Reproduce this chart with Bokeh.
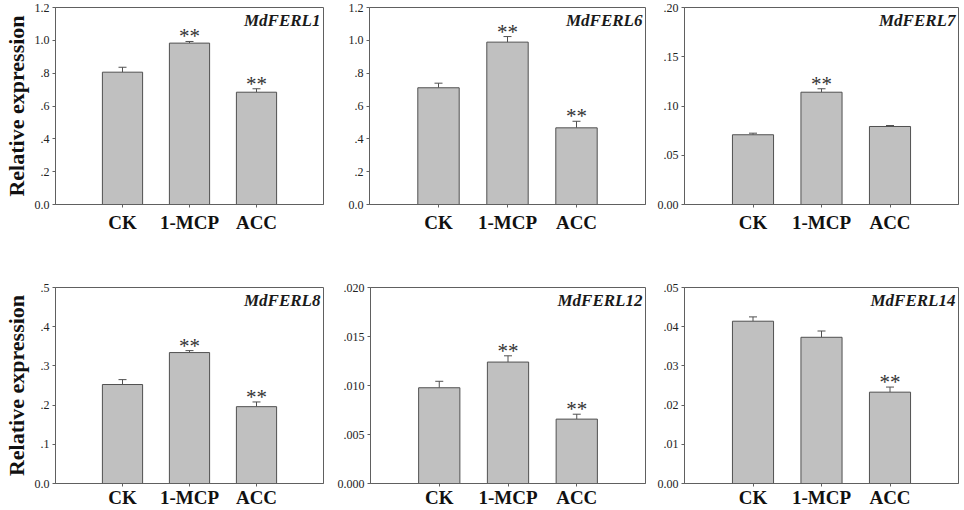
from bokeh.plotting import figure
from bokeh.models import (FactorRange, Range1d, FixedTicker, Whisker, ColumnDataSource,
                          Label, TeeHead, CustomJSTickFormatter)
from bokeh.layouts import column, row
from bokeh.embed import file_html
from bokeh.resources import INLINE
from bokeh.core.properties import value

# ---------------- data ----------------
categories = ["CK", "1-MCP", "ACC"]
genes = ["MdFERL1", "MdFERL6", "MdFERL7", "MdFERL8", "MdFERL12", "MdFERL14"]

ferl1_mean = [0.806, 0.983, 0.684]
ferl1_err = [0.030, 0.010, 0.021]
ferl6_mean = [0.711, 0.989, 0.467]
ferl6_err = [0.028, 0.034, 0.040]
ferl7_mean = [0.0708, 0.1140, 0.0792]
ferl7_err = [0.0016, 0.0035, 0.0010]
ferl8_mean = [0.2525, 0.3340, 0.1960]
ferl8_err = [0.0125, 0.0050, 0.0120]
ferl12_mean = [0.00977, 0.01239, 0.00657]
ferl12_err = [0.00066, 0.00064, 0.00050]
ferl14_mean = [0.0414, 0.0373, 0.0233]
ferl14_err = [0.0011, 0.0016, 0.0013]

ferl1_sig = ["", "**", "**"]
ferl6_sig = ["", "**", "**"]
ferl7_sig = ["", "**", ""]
ferl8_sig = ["", "**", "**"]
ferl12_sig = ["", "**", "**"]
ferl14_sig = ["", "", "**"]

ferl1_ticks = [0.0, 0.2, 0.4, 0.6, 0.8, 1.0, 1.2]
ferl1_labels = ["0.0", ".2", ".4", ".6", ".8", "1.0", "1.2"]
ferl6_ticks = [0.0, 0.2, 0.4, 0.6, 0.8, 1.0, 1.2]
ferl6_labels = ["0.0", ".2", ".4", ".6", ".8", "1.0", "1.2"]
ferl7_ticks = [0.0, 0.05, 0.10, 0.15, 0.20]
ferl7_labels = ["0.00", ".05", ".10", ".15", ".20"]
ferl8_ticks = [0.0, 0.1, 0.2, 0.3, 0.4, 0.5]
ferl8_labels = ["0.0", ".1", ".2", ".3", ".4", ".5"]
ferl12_ticks = [0.0, 0.005, 0.010, 0.015, 0.020]
ferl12_labels = ["0.000", ".005", ".010", ".015", ".020"]
ferl14_ticks = [0.0, 0.01, 0.02, 0.03, 0.04, 0.05]
ferl14_labels = ["0.00", ".01", ".02", ".03", ".04", ".05"]

ylabel = "Relative expression"

# ---------------- styling ----------------
SERIF = "Liberation Serif"
AXIS_C = "#606060"
BAR_FILL = "#c0c0c0"
BAR_LINE = "#505050"

# column geometry: (width, left border, right border)
COLS = [(334, 51, 11), (318, 35, 7), (310, 32, 4)]
# row geometry: (height, top border, bottom border, category label standoff)
ROWS = [(250, 7, 46, 4), (260, 37, 27, 0)]


def make_panel(gene, mean, err, sig, ticks, labels, col, rw, with_ylabel):
    w, bl, br = COLS[col]
    h, bt, bb, stand = ROWS[rw]
    ymax = ticks[-1]
    p = figure(
        x_range=FactorRange(factors=categories, range_padding=0.5,
                            range_padding_units="absolute"),
        y_range=Range1d(0, ymax),
        width=w, height=h,
        min_border_left=bl, min_border_right=br,
        min_border_top=bt, min_border_bottom=bb,
        output_backend="svg", toolbar_location=None,
    )
    p.background_fill_color = "white"
    p.border_fill_color = "white"
    p.outline_line_color = AXIS_C
    p.outline_line_width = 1
    p.xgrid.grid_line_color = None
    p.ygrid.grid_line_color = None

    src = ColumnDataSource(dict(
        cat=categories,
        mean=mean,
        upper=[m + e for m, e in zip(mean, err)],
        sig=sig,
    ))
    p.vbar(x="cat", top="mean", width=0.6, source=src,
           fill_color=BAR_FILL, line_color=BAR_LINE, line_width=1)
    wh = Whisker(base="cat", lower="mean", upper="upper", source=src,
                 line_color=BAR_LINE, line_width=1,
                 upper_head=TeeHead(size=8, line_color=BAR_LINE, line_width=1),
                 lower_head=None)
    p.add_layout(wh)
    p.text(x="cat", y="upper", text="sig", source=src,
           text_font=value(SERIF), text_font_size="21px",
           text_align="center", text_baseline="alphabetic",
           y_offset=-5, text_color="#333333")

    p.add_layout(Label(x=3.5, y=ymax, x_offset=-3, y_offset=-3, text=gene,
                       text_font=SERIF, text_font_size="17px",
                       text_font_style="bold italic", text_color="#1a1a1a",
                       text_align="right", text_baseline="top"))

    xa = p.xaxis[0]
    xa.axis_line_color = AXIS_C
    xa.major_tick_line_color = AXIS_C
    xa.major_tick_in = 0
    xa.major_tick_out = 3
    xa.minor_tick_line_color = None
    xa.major_label_text_font = SERIF
    xa.major_label_text_font_style = "bold"
    xa.major_label_text_font_size = "19px"
    xa.major_label_text_color = "#111111"
    xa.major_label_standoff = stand

    ya = p.yaxis[0]
    ya.ticker = FixedTicker(ticks=ticks)
    ya.formatter = CustomJSTickFormatter(
        args=dict(tv=ticks, tl=labels),
        code="""
        for (let i = 0; i < tv.length; i++) {
          if (Math.abs(tv[i] - tick) < 1e-9) { return tl[i] }
        }
        return ""
        """)
    ya.axis_line_color = AXIS_C
    ya.major_tick_line_color = AXIS_C
    ya.major_tick_in = 0
    ya.major_tick_out = 3
    ya.minor_tick_line_color = None
    ya.major_label_text_font = SERIF
    ya.major_label_text_font_size = "12px"
    ya.major_label_text_color = "#222222"
    ya.major_label_standoff = 3
    if with_ylabel:
        ya.axis_label = ylabel
        ya.axis_label_text_font = SERIF
        ya.axis_label_text_font_style = "bold"
        ya.axis_label_text_font_size = "22px"
        ya.axis_label_text_color = "#111111"
        ya.axis_label_standoff = 3
    return p


p1 = make_panel(genes[0], ferl1_mean, ferl1_err, ferl1_sig, ferl1_ticks, ferl1_labels, 0, 0, True)
p2 = make_panel(genes[1], ferl6_mean, ferl6_err, ferl6_sig, ferl6_ticks, ferl6_labels, 1, 0, False)
p3 = make_panel(genes[2], ferl7_mean, ferl7_err, ferl7_sig, ferl7_ticks, ferl7_labels, 2, 0, False)
p4 = make_panel(genes[3], ferl8_mean, ferl8_err, ferl8_sig, ferl8_ticks, ferl8_labels, 0, 1, True)
p5 = make_panel(genes[4], ferl12_mean, ferl12_err, ferl12_sig, ferl12_ticks, ferl12_labels, 1, 1, False)
p6 = make_panel(genes[5], ferl14_mean, ferl14_err, ferl14_sig, ferl14_ticks, ferl14_labels, 2, 1, False)

layout = column(row(p1, p2, p3, spacing=0), row(p4, p5, p6, spacing=0), spacing=0)

open("out.html", "w").write(file_html(layout, INLINE))
